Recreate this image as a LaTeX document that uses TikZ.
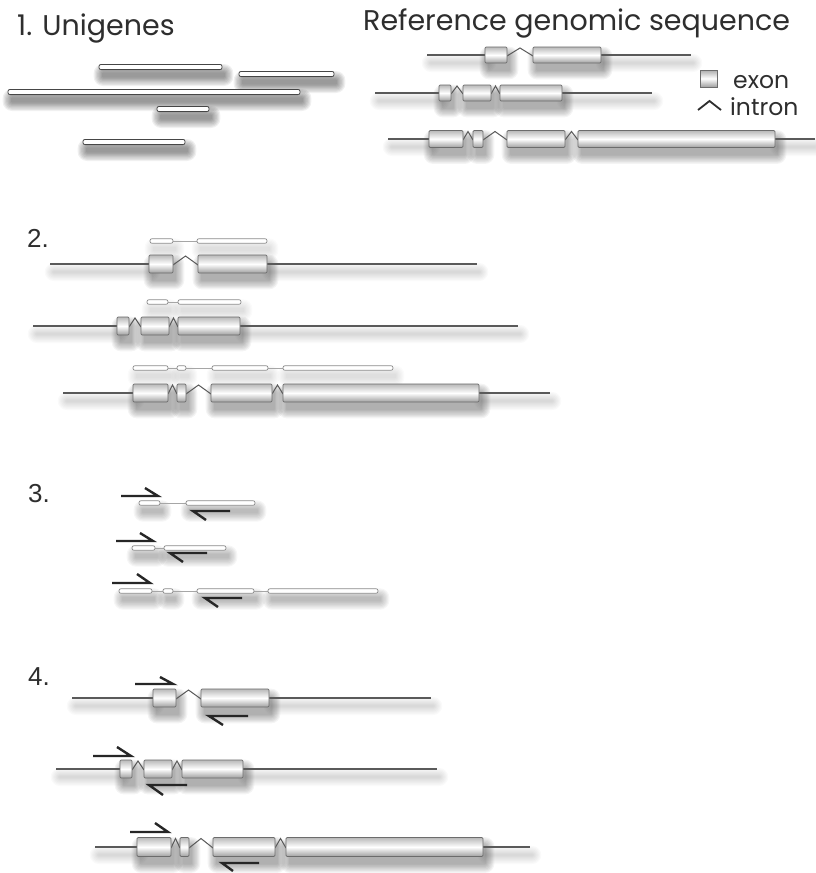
\documentclass[tikz,border=0pt]{standalone}
\usepackage{fontspec}
\setmainfont{Poppins}
\newfontfamily\numfont{Liberation Sans}

\definecolor{ink}{HTML}{2E2E2E}
\definecolor{bb}{HTML}{5A5A5A}

\tikzset{
  backbone/.style={fill=bb, draw=none},
  intronline/.style={draw=bb, line width=1pt, line join=miter},
  exonbox/.style={draw=gray!85!black, line width=0.7pt, rounded corners=1.2pt,
    top color=gray!55, bottom color=gray!75, middle color=white},
  unibar/.style={draw=gray!55!black, fill=white, line width=0.8pt, rounded corners=2pt},
  unibarlight/.style={draw=gray!90, fill=white, line width=0.7pt, rounded corners=2pt},
  unilink/.style={draw=gray!70, line width=0.8pt},
  primer/.style={draw=black!85, line width=2.4pt, line join=miter},
  shadowlayer/.style={fill=black, draw=none},
  lbl/.style={anchor=base west, inner sep=0pt, text=ink, font=\fontsize{28.5}{32}\selectfont},
  small/.style={anchor=base west, inner sep=0pt, text=ink, font=\fontsize{23.5}{27}\selectfont},
  num/.style={anchor=base west, inner sep=0pt, text=ink, font=\numfont\fontsize{26}{30}\selectfont},
}

% soft shadow: #1 x1, #2 y1, #3 x2, #4 y2, #5 opacity per layer
\newcommand{\softshadow}[5]{%
  \foreach \k in {0,...,7} {%
    \fill[shadowlayer, fill opacity=#5, rounded corners={1pt+1.2pt*\k}]
      ({#1+3-1.2*\k},{#2+8-1.2*\k}) rectangle ({#3+3+1.2*\k},{#4+8+1.2*\k});}%
}

% #1 y, #2 half height, #3 xs, #4 first exon left, #5 last exon right, #6 xe, #7 exons, #8 introns
\newcommand{\genemodel}[8]{%
  \softshadow{#3}{#1-0.7}{#4}{#1+0.7}{0.018}
  \softshadow{#5}{#1-0.7}{#6}{#1+0.7}{0.018}
  \foreach \a/\b in {#7} {\softshadow{\a}{#1-#2}{\b}{#1+#2}{0.045}}
  \fill[backbone] (#3,#1-0.7) rectangle (#4,#1+0.7);
  \fill[backbone] (#5,#1-0.7) rectangle (#6,#1+0.7);
  \foreach \p/\q in {#8} {\draw[intronline] (\p,#1+1) -- ({(\p+\q)/2},#1-#2+1) -- (\q,#1+1);}
  \foreach \a/\b in {#7} {\draw[exonbox] (\a,#1-#2) rectangle (\b,#1+#2);}
}
% #1 y, #2 shadow opacity, #3 capsules, #4 links
\newcommand{\unigene}[4]{%
  \foreach \a/\b in {#3} {\softshadow{\a}{#1-2.3}{\b}{#1+2.3}{#2}}
  \foreach \p/\q in {#4} {\draw[unilink] (\p,#1) -- (\q,#1);}
  \foreach \a/\b in {#3} {\draw[unibarlight] (\a,#1-2.3) rectangle (\b,#1+2.3);}
}
% primer: #1 y, #2 x tail, #3 x head, #4 barb x, #5 barb y
\newcommand{\primerarrow}[5]{\draw[primer] (#2,#1) -- (#3,#1) -- (#4,#5);}

\begin{document}
\begin{tikzpicture}[x=1pt, y=-1pt]
\useasboundingbox (0,0) rectangle (815,873);
\fill[white] (0,0) rectangle (815,873);

% ---------- 1. Unigenes ----------
\node[lbl] (t1) at (17,35) {1. Unigenes};
\foreach \yy/\xa/\xb in {67/99/222, 74/239/334, 92/8/300, 109/157/209, 142/83/185}
  {\softshadow{\xa}{\yy-2.6}{\xb}{\yy+2.6}{0.06}}
\foreach \yy/\xa/\xb in {67/99/222, 74/239/334, 92/8/300, 109/157/209, 142/83/185}
  {\draw[unibar] (\xa,\yy-2.6) rectangle (\xb,\yy+2.6);}

% ---------- Reference genomic sequence ----------
\node[lbl] (tref) at (363,30) {Reference genomic sequence};
\genemodel{55}{8}{427}{485}{601}{691}{485/507, 533/601}{507/533}
\genemodel{93}{8}{375}{439}{562}{652}{439/451, 463/491, 500/562}{451/463, 491/500}
\genemodel{139}{8.5}{388}{429}{775}{815}{429/463, 473/483, 507/565, 578/775}{463/473, 483/507, 565/578}

% legend
\draw[draw=gray!85!black, line width=0.6pt, top color=gray!65, bottom color=gray!75, middle color=white] (700,70) rectangle (717,87);
\node[small] (texon) at (733,88) {exon};
\draw[draw=ink, line width=1.8pt, line join=miter] (698,110) -- (709.5,101) -- (721,110);
\node[small] (tintron) at (730,115) {intron};

% ---------- 2. ----------
\node[num] (t2) at (27,247) {2.};
\unigene{241}{0.015}{150/173, 197/267}{173/197}
\genemodel{264}{9}{50}{149}{267}{477}{149/173, 198/267}{173/198}
\unigene{302}{0.015}{147/168, 178/241}{168/178}
\genemodel{326}{9}{33}{117}{240}{518}{117/129, 141/169, 178/240}{129/141, 169/178}
\unigene{368}{0.015}{133/168, 177/186, 212/268, 283/393}{168/177, 186/212, 268/283}
\genemodel{393}{9}{63}{133}{479}{550}{133/168, 177/186, 211/272, 283/479}{168/177, 186/211, 272/283}

% ---------- 3. ----------
\node[num] (t3) at (28,502) {3.};
\unigene{503}{0.035}{139/160, 186/255}{160/186}
\primerarrow{496}{121}{158}{145}{488}
\primerarrow{511}{230}{193}{206}{520}
\unigene{548}{0.035}{132/155, 164/226}{155/164}
\primerarrow{541}{116}{153}{140}{533}
\primerarrow{553}{207}{170}{183}{562}
\unigene{591}{0.035}{119/152, 163/173, 197/254, 268/378}{152/163, 173/197, 254/268}
\primerarrow{583}{112}{150}{137}{574}
\primerarrow{598}{242}{205}{218}{607}

% ---------- 4. ----------
\node[num] (t4) at (28,685) {4.};
\genemodel{698}{9}{72}{153}{269}{431}{153/176, 201/269}{176/201}
\primerarrow{684}{135}{173}{160}{677}
\primerarrow{716}{248}{209}{223}{725}
\genemodel{769}{9}{56}{120}{243}{437}{120/132, 144/172, 182/243}{132/144, 172/182}
\primerarrow{756}{93}{131}{117}{747}
\primerarrow{785}{187}{149}{163}{795}
\genemodel{847}{9.5}{95}{137}{483}{530}{137/171, 180/189, 213/275, 286/483}{171/180, 189/213, 275/286}
\primerarrow{832}{130}{168}{155}{823}
\primerarrow{863}{259}{222}{233}{871}
\end{tikzpicture}
\end{document}
